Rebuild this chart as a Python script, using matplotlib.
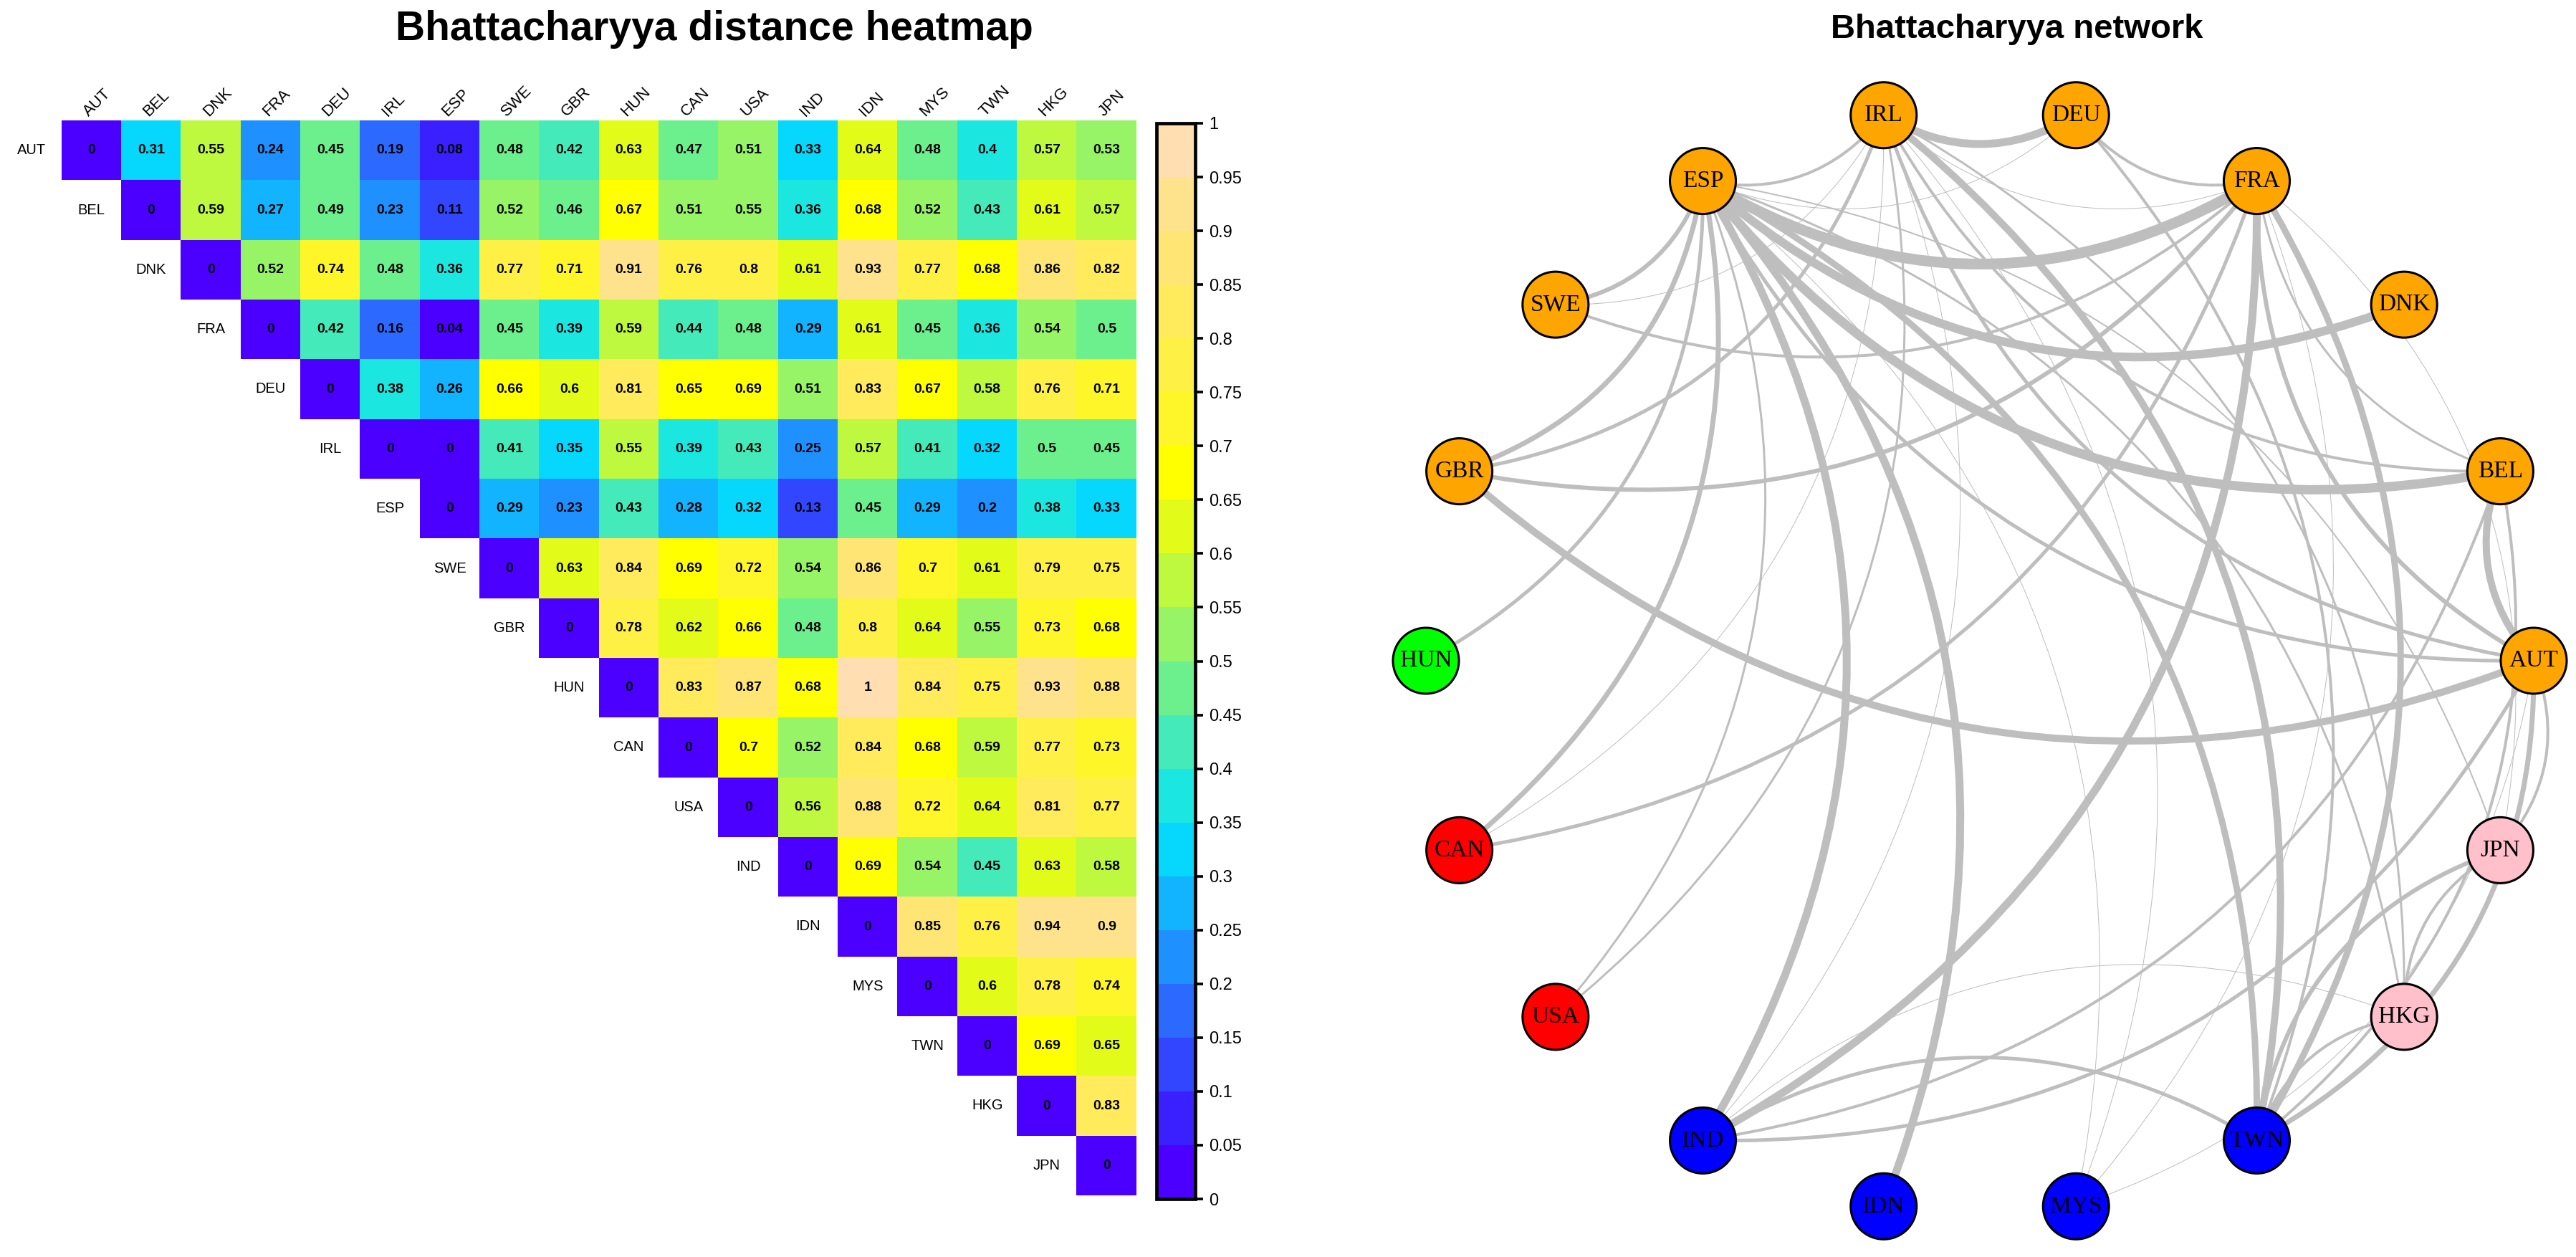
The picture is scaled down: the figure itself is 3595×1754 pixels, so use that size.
import numpy as np
import matplotlib
matplotlib.use("Agg")
import matplotlib.pyplot as plt
from matplotlib.colors import ListedColormap, BoundaryNorm
from matplotlib.path import Path
from matplotlib.patches import PathPatch, Circle
import matplotlib.cm as cm

countries = ["AUT", "BEL", "DNK", "FRA", "DEU", "IRL", "ESP", "SWE", "GBR",
             "HUN", "CAN", "USA", "IND", "IDN", "MYS", "TWN", "HKG", "JPN"]

# upper triangle of the distance matrix, each row starts at the diagonal
dist_rows = [
    [0, .31, .55, .24, .45, .19, .08, .48, .42, .63, .47, .51, .33, .64, .48, .398, .57, .53],
    [0, .59, .27, .49, .23, .11, .52, .46, .67, .51, .548, .36, .68, .52, .43, .61, .57],
    [0, .52, .74, .48, .36, .77, .71, .91, .76, .798, .61, .93, .77, .68, .86, .82],
    [0, .42, .16, .04, .45, .39, .59, .44, .48, .29, .61, .45, .36, .54, .498],
    [0, .38, .26, .66, .60, .81, .65, .69, .51, .83, .67, .58, .76, .71],
    [0, 0, .41, .348, .55, .39, .43, .248, .57, .41, .32, .498, .45],
    [0, .29, .23, .43, .28, .32, .13, .45, .29, .20, .38, .33],
    [0, .63, .84, .69, .72, .54, .86, .70, .61, .79, .75],
    [0, .78, .62, .66, .48, .798, .64, .548, .73, .68],
    [0, .83, .87, .68, 1.0, .84, .75, .93, .88],
    [0, .698, .52, .84, .68, .59, .77, .73],
    [0, .56, .88, .72, .64, .81, .77],
    [0, .69, .54, .448, .63, .58],
    [0, .85, .76, .94, .90],
    [0, .60, .78, .74],
    [0, .69, .648],
    [0, .83],
    [0],
]

bin_colors = ["#4B00FF", "#3A20FF", "#3346FF", "#2B69FF", "#1E90FF",
              "#12B4FF", "#05D8FC", "#1CE6E0", "#45EABA", "#6CF08E",
              "#96F466", "#BEF940", "#E3FB19", "#FFFF00", "#FFF62A",
              "#FFF045", "#FFEB5C", "#FFE674", "#FFE28C", "#FFDFB2"]
levels = np.round(np.arange(0, 1.0001, 0.05), 2)

node_colors = ["orange"] * 9 + ["#00FF00", "red", "red", "blue", "blue", "blue",
                                 "blue", "pink", "pink"]

edge_from = ["ESP", "ESP", "ESP", "ESP", "ESP", "ESP", "ESP", "ESP", "ESP", "ESP",
             "ESP", "ESP", "ESP", "ESP", "ESP", "ESP", "ESP",
             "IRL", "IRL", "IRL", "IRL", "IRL", "IRL", "IRL", "IRL", "IRL", "IRL",
             "IRL", "IRL",
             "FRA", "FRA", "FRA", "FRA", "FRA", "FRA", "FRA", "FRA", "FRA", "FRA",
             "BEL", "BEL", "BEL",
             "AUT", "AUT", "AUT", "AUT", "AUT",
             "DEU", "TWN", "TWN", "IND", "HKG", "IND"]
edge_to = ["FRA", "BEL", "DNK", "IND", "IDN", "TWN", "CAN", "GBR", "SWE", "HUN",
           "IRL", "AUT", "USA", "HKG", "JPN", "MYS", "DEU",
           "DEU", "TWN", "AUT", "BEL", "GBR", "USA", "HKG", "FRA", "CAN", "MYS",
           "IND", "SWE",
           "IND", "TWN", "GBR", "AUT", "CAN", "DEU", "SWE", "BEL", "MYS", "JPN",
           "AUT", "IND", "TWN",
           "GBR", "TWN", "JPN", "IND", "MYS",
           "TWN", "JPN", "HKG", "TWN", "JPN", "HKG"]
edge_width = [15, 13, 12, 11, 11, 9, 7, 7, 6, 5,
              4, 5, 3, 3, 2, 1, 1,
              11, 10, 5, 4, 5, 3, 3, 1, 1, 1,
              1, 1,
              11, 9, 6, 6, 5, 4, 4, 3, 1, 1,
              10, 4, 4,
              10, 7, 4, 5, 1,
              4, 6, 4, 5, 4, 1]

n = len(countries)
D = np.full((n, n), np.nan)
for i, row in enumerate(dist_rows):
    D[i, i:] = row

W, H = 3595, 1754
fig = plt.figure(figsize=(W / 100, H / 100), dpi=100)

# ---------- heatmap ----------
cmap = ListedColormap(bin_colors)
norm = BoundaryNorm(levels, cmap.N)
ax = fig.add_axes([86 / W, (H - 1668) / H, 1500 / W, 1500 / H])
ax.imshow(np.ma.masked_invalid(D), cmap=cmap, norm=norm, extent=(0, n, n, 0),
          interpolation="nearest", aspect="auto")
ax.set_xlim(0, n)
ax.set_ylim(n, 0)
ax.axis("off")
for i in range(n):
    for j in range(i, n):
        s = ("%.2f" % D[i, j]).rstrip("0").rstrip(".")
        ax.text(j + 0.5, i + 0.5, s, ha="center", va="center", fontsize=14,
                fontweight="bold", family="Liberation Sans")
    ax.text(i - 0.5, i + 0.5, countries[i], ha="center", va="center",
            fontsize=14.5, family="Liberation Sans", clip_on=False)
    ax.text(i + 0.5, -0.02, countries[i], ha="left", va="bottom", rotation=45,
            rotation_mode="anchor", fontsize=16, family="Liberation Sans",
            clip_on=False)

cax = fig.add_axes([1614 / W, (H - 1673) / H, 54 / W, 1501 / H])
sm = cm.ScalarMappable(norm=norm, cmap=cmap)
cb = fig.colorbar(sm, cax=cax, ticks=levels, boundaries=levels)
cb.outline.set_linewidth(3.4)
cb.ax.tick_params(length=8, width=2.6, labelsize=17, pad=6)
cb.ax.set_yticklabels(["%g" % v for v in levels], family="Liberation Sans")

fig.text(997 / W, 1 - 41 / H, "Bhattacharyya distance heatmap", ha="center",
         va="center", fontsize=41, fontweight="bold", family="Liberation Sans")

# ---------- network ----------
R = 773.0
half = 830.0
ax2 = fig.add_axes([(2763 - half) / W, (H - 922 - half) / H, 2 * half / W, 2 * half / H])
ax2.set_xlim(-half / R, half / R)
ax2.set_ylim(-half / R, half / R)
ax2.axis("off")

ang = np.deg2rad(np.arange(n) * 20.0)
pos = np.column_stack([np.cos(ang), np.sin(ang)])
idx = {c: k for k, c in enumerate(countries)}

for a, b, w in zip(edge_from, edge_to, edge_width):
    i, j = sorted((idx[a], idx[b]))
    p0, p2 = pos[i], pos[j]
    d = p2 - p0
    normal = np.array([-d[1], d[0]])
    ctrl = (p0 + p2) / 2 + 0.3 * normal
    path = Path([p0, ctrl, p2], [Path.MOVETO, Path.CURVE3, Path.CURVE3])
    ax2.add_patch(PathPatch(path, fc="none", ec="#BEBEBE", lw=w * 0.72,
                            capstyle="butt", zorder=1))

node_r = 46 / R
for k, c in enumerate(countries):
    ax2.add_patch(Circle(pos[k], node_r, fc=node_colors[k], ec="black", lw=2.2,
                         zorder=3))
    ax2.text(pos[k][0], pos[k][1], c, ha="center", va="center", fontsize=24,
             family="Liberation Serif", zorder=4)

fig.text(2815 / W, 1 - 41 / H, "Bhattacharyya network", ha="center", va="center",
         fontsize=34, fontweight="bold", family="Liberation Sans")

fig.savefig("out.png", dpi=100)
